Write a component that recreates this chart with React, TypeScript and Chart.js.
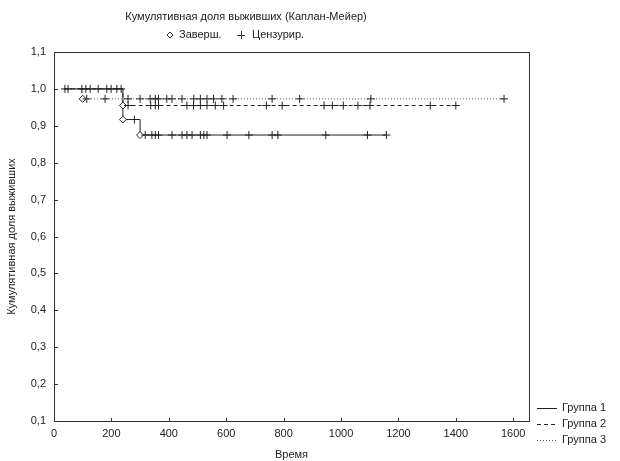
import React, { useEffect, useRef } from 'react';
import { Chart, registerables } from 'chart.js';

Chart.register(...registerables);

const titleText = 'Кумулятивная доля выживших (Каплан-Мейер)';
const eventLabel = 'Заверш.';
const censorLabel = 'Цензурир.';
const xTitle = 'Время';
const yTitle = 'Кумулятивная доля выживших';
const groupNames = ['Группа 1', 'Группа 2', 'Группа 3'];

const xTicks = [0, 200, 400, 600, 800, 1000, 1200, 1400, 1600];
const yTicks = [0.1, 0.2, 0.3, 0.4, 0.5, 0.6, 0.7, 0.8, 0.9, 1.0, 1.1];
const xMin = 0;
const xMax = 1655;
const yMin = 0.1;
const yMax = 1.1;

// Group 1
const g1Start = 38;
const g1End = 1158;
const g1EventTimes = [240, 300];
const g1EventSurv = [0.917, 0.875];
const g1Censored = [38, 49, 97, 111, 126, 154, 184, 199, 219, 234, 280, 318, 341, 353, 364, 411, 446, 463, 481, 510, 522, 533, 603, 679, 760, 780, 947, 1092, 1158];

// Group 2
const g2Start = 60;
const g2End = 1400;
const g2EventTimes = [240];
const g2EventSurv = [0.955];
const g2Censored = [258, 337, 353, 364, 463, 486, 510, 533, 562, 591, 740, 795, 941, 970, 1008, 1059, 1101, 1311, 1400];

// Group 3
const g3Start = 38;
const g3End = 1568;
const g3EventTimes = [100];
const g3EventSurv = [0.973];
const g3Censored = [114, 178, 258, 300, 335, 353, 364, 393, 411, 446, 487, 510, 533, 556, 585, 624, 760, 856, 1104, 1568];

const FONT = "'Liberation Sans', Arial, sans-serif";
const INK = '#222';

const survAt = (t: number, times: number[], surv: number[]) => {
  let s = 1.0;
  for (let i = 0; i < times.length; i++) if (times[i] <= t) s = surv[i];
  return s;
};

const curve = (start: number, end: number, times: number[], surv: number[]) => [
  { x: start, y: 1.0 },
  ...times.map((t, i) => ({ x: t, y: surv[i] })),
  { x: end, y: surv[surv.length - 1] },
];

const groups = [
  { start: g1Start, end: g1End, times: g1EventTimes, surv: g1EventSurv, cens: g1Censored, dash: [] as number[], color: INK },
  { start: g2Start, end: g2End, times: g2EventTimes, surv: g2EventSurv, cens: g2Censored, dash: [4, 3], color: INK },
  { start: g3Start, end: g3End, times: g3EventTimes, surv: g3EventSurv, cens: g3Censored, dash: [1, 2], color: '#555' },
];

const decor = {
  id: 'decor',
  afterDraw(chart: any) {
    const { ctx, chartArea } = chart;
    const { left, right, top, bottom } = chartArea;
    const xs = chart.scales.x;
    const ys = chart.scales.y;
    ctx.save();
    ctx.strokeStyle = '#333';
    ctx.lineWidth = 1;
    ctx.setLineDash([]);
    ctx.strokeRect(Math.round(left) + 0.5, Math.round(top) + 0.5, Math.round(right - left), Math.round(bottom - top));
    ctx.beginPath();
    xTicks.forEach((v) => {
      const px = Math.round(xs.getPixelForValue(v)) + 0.5;
      ctx.moveTo(px, Math.round(bottom));
      ctx.lineTo(px, Math.round(bottom) - 3);
    });
    yTicks.forEach((v) => {
      const py = Math.round(ys.getPixelForValue(v)) + 0.5;
      ctx.moveTo(Math.round(left), py);
      ctx.lineTo(Math.round(left) + 4, py);
    });
    ctx.stroke();

    ctx.fillStyle = INK;
    ctx.font = `11px ${FONT}`;
    ctx.textAlign = 'center';
    ctx.textBaseline = 'middle';
    ctx.fillText(titleText, 246, 17);

    // marker legend
    ctx.textAlign = 'left';
    const dx = 170, dy = 35;
    ctx.beginPath();
    ctx.moveTo(dx, dy - 3);
    ctx.lineTo(dx + 3, dy);
    ctx.lineTo(dx, dy + 3);
    ctx.lineTo(dx - 3, dy);
    ctx.closePath();
    ctx.stroke();
    ctx.fillText(eventLabel, 179, dy);
    const cx = 241;
    ctx.beginPath();
    ctx.moveTo(cx - 4, dy + 0.5);
    ctx.lineTo(cx + 4, dy + 0.5);
    ctx.moveTo(cx + 0.5, dy - 4);
    ctx.lineTo(cx + 0.5, dy + 4);
    ctx.stroke();
    ctx.fillText(censorLabel, 252, dy);

    // axis titles
    ctx.textAlign = 'center';
    ctx.fillText(xTitle, (left + right) / 2, 455);
    ctx.save();
    ctx.translate(12, (top + bottom) / 2);
    ctx.rotate(-Math.PI / 2);
    ctx.fillText(yTitle, 0, 0);
    ctx.restore();

    // group legend
    ctx.textAlign = 'left';
    groupNames.forEach((name, i) => {
      const y = 408 + i * 16;
      ctx.strokeStyle = groups[i].color;
      ctx.setLineDash(groups[i].dash);
      ctx.beginPath();
      ctx.moveTo(537, y + 0.5);
      ctx.lineTo(557, y + 0.5);
      ctx.stroke();
      ctx.setLineDash([]);
      ctx.fillText(name, 562, y);
    });
    ctx.restore();
  },
};

export default function App() {
  const ref = useRef<HTMLCanvasElement>(null);
  useEffect(() => {
    if (!ref.current) return;
    const markerSets: any[] = [];
    const lineSets: any[] = [];
    groups.forEach((g, i) => {
      markerSets.push({
        type: 'scatter',
        label: `cens${i}`,
        data: g.cens.map((t) => ({ x: t, y: survAt(t, g.times, g.surv) })),
        pointStyle: 'cross',
        pointRadius: 4,
        pointBorderWidth: 1,
        borderColor: INK,
        backgroundColor: INK,
        showLine: false,
        order: 0,
      });
      markerSets.push({
        type: 'scatter',
        label: `ev${i}`,
        data: g.times.map((t, k) => ({ x: t, y: g.surv[k] })),
        pointStyle: 'rectRot',
        pointRadius: 3.5,
        pointBorderWidth: 1,
        borderColor: INK,
        backgroundColor: '#fff',
        showLine: false,
        order: 0,
      });
      lineSets.push({
        type: 'line',
        label: groupNames[i],
        data: curve(g.start, g.end, g.times, g.surv),
        stepped: 'before',
        borderColor: g.color,
        borderWidth: 1,
        borderDash: g.dash,
        pointRadius: 0,
        fill: false,
        order: 1,
      });
    });
    const chart = new Chart(ref.current, {
      type: 'scatter',
      data: { datasets: [...markerSets, ...lineSets] },
      options: {
        animation: false,
        responsive: false,
        maintainAspectRatio: false,
        layout: { padding: { left: 0, top: 52, right: 91, bottom: 0 } },
        plugins: { legend: { display: false }, tooltip: { enabled: false }, title: { display: false } },
        scales: {
          x: {
            type: 'linear',
            min: xMin,
            max: xMax,
            afterBuildTicks: (s: any) => { s.ticks = xTicks.map((v) => ({ value: v })); },
            afterFit: (s: any) => { s.height = 40; },
            grid: { display: false, drawTicks: false },
            border: { display: false },
            ticks: { padding: 6, color: INK, font: { family: FONT, size: 11 }, maxRotation: 0, callback: (v: any) => String(v) },
          },
          y: {
            type: 'linear',
            min: yMin,
            max: yMax,
            afterBuildTicks: (s: any) => { s.ticks = yTicks.map((v) => ({ value: v })); },
            afterFit: (s: any) => { s.width = 54; },
            grid: { display: false, drawTicks: false },
            border: { display: false },
            ticks: { padding: 8, color: INK, font: { family: FONT, size: 11 }, callback: (v: any) => Number(v).toFixed(1).replace('.', ',') },
          },
        },
      },
      plugins: [decor],
    });
    return () => chart.destroy();
  }, []);
  return (
    <div style={{ position: 'fixed', left: 0, top: 0, width: 620, height: 461, background: '#fff' }}>
      <canvas ref={ref} width={620} height={461} style={{ width: 620, height: 461, display: 'block' }} />
    </div>
  );
}
